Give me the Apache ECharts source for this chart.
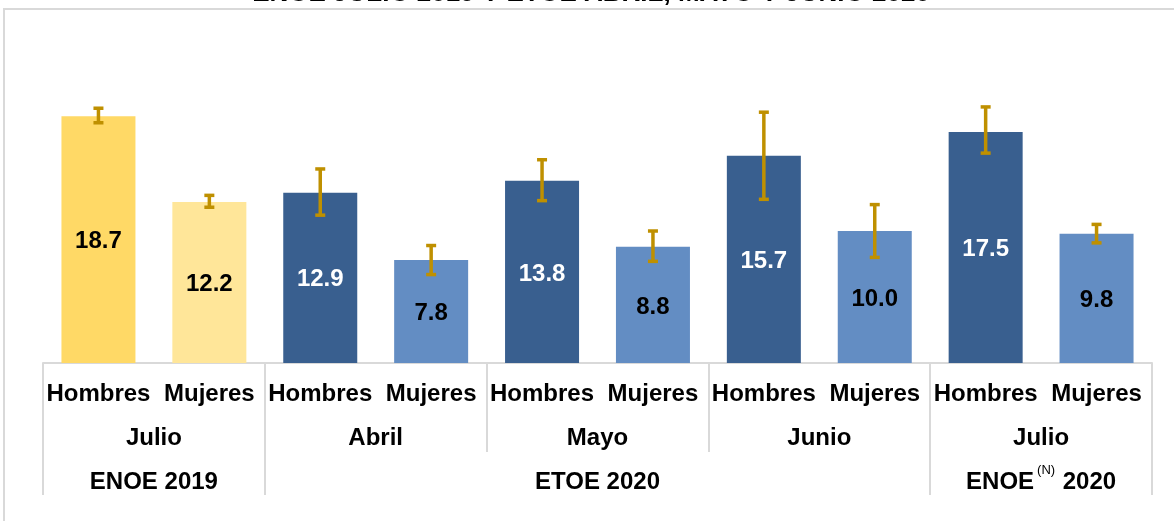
<!DOCTYPE html>
<html>
<head>
<meta charset="utf-8">
<script src="https://cdn.jsdelivr.net/npm/echarts@6/dist/echarts.min.js"></script>
<style>
  html, body { margin: 0; padding: 0; background: #fff; }
  #chart { width: 1174px; height: 521px; }
</style>
</head>
<body>
<div id="chart"></div>
<script>
// data
const categories = ['Hombres', 'Mujeres', 'Hombres', 'Mujeres', 'Hombres', 'Mujeres', 'Hombres', 'Mujeres', 'Hombres', 'Mujeres']
const values = [18.7, 12.2, 12.9, 7.8, 13.8, 8.8, 15.7, 10.0, 17.5, 9.8]
const errLow = [18.2, 11.8, 11.2, 6.7, 12.3, 7.7, 12.4, 8.0, 15.9, 9.1]
const errHigh = [19.3, 12.7, 14.7, 8.9, 15.4, 10.0, 19.0, 12.0, 19.4, 10.5]
const monthLabels = ['Julio', 'Abril', 'Mayo', 'Junio', 'Julio']
const surveyLabels = ['ENOE 2019', 'ETOE 2020', 'ENOE 2020']
const surveyNotes = ['', '', '(N)']
const surveySpans = [2, 6, 2]
const titleText = 'ENOE JULIO 2019 Y ETOE ABRIL, MAYO Y JUNIO 2020'

const FONT = "'Liberation Sans', Arial, sans-serif"
const GRID_LINE = '#d9d9d9'

// bar colours: first survey in gold, the rest in blue
const barColor = (i) => {
  const woman = i % 2 === 1
  if (i < 2) return woman ? '#ffe699' : '#ffd966'
  return woman ? '#638dc3' : '#395f8f'
}
const labelColor = (i) => (i >= 2 && i % 2 === 0 ? '#fff' : '#000')

// group boundaries / centres on the 0..N scale
const monthSpan = categories.length / monthLabels.length
const monthBounds = monthLabels.map((m, i) => i * monthSpan).concat([categories.length])
const monthCenters = monthLabels.map((m, i) => i * monthSpan + monthSpan / 2)

const surveyBounds = [0]
const surveyCenters = []
surveySpans.forEach(s => {
  const start = surveyBounds[surveyBounds.length - 1]
  surveyCenters.push(start + s / 2)
  surveyBounds.push(start + s)
})

const chart = echarts.init(document.getElementById('chart'))

const option = {
  backgroundColor: '#fff',
  animation: false,
  graphic: [
    {
      type: 'rect',
      shape: { x: 4, y: 9, width: 1300, height: 700 },
      style: { fill: 'none', stroke: GRID_LINE, lineWidth: 2 },
      silent: true,
      z: -1
    },
    {
      type: 'text',
      style: {
        text: titleText,
        x: 591,
        y: 7,
        align: 'center',
        verticalAlign: 'bottom',
        font: 'bold 26px ' + FONT,
        fill: '#000'
      },
      silent: true
    }
  ],
  grid: {
    left: 43,
    right: 22,
    top: 99,
    bottom: 158,
    outerBoundsMode: 'none'
  },
  xAxis: [
    {
      type: 'category',
      data: categories,
      position: 'bottom',
      axisLine: { show: true, lineStyle: { color: GRID_LINE, width: 2 } },
      axisTick: { show: false },
      axisLabel: {
        interval: 0,
        margin: 19,
        color: '#000',
        fontFamily: FONT,
        fontWeight: 'bold',
        fontSize: 24
      }
    },
    {
      type: 'value',
      min: 0,
      max: categories.length,
      position: 'bottom',
      axisLine: { show: false },
      splitLine: { show: false },
      axisTick: {
        show: true,
        customValues: monthBounds,
        length: 89,
        lineStyle: { color: GRID_LINE, width: 2 }
      },
      axisLabel: {
        customValues: monthCenters,
        margin: 63,
        color: '#000',
        fontFamily: FONT,
        fontWeight: 'bold',
        fontSize: 24,
        formatter: (v) => monthLabels[monthCenters.indexOf(v)] || ''
      }
    },
    {
      type: 'value',
      min: 0,
      max: categories.length,
      position: 'bottom',
      axisLine: { show: false },
      splitLine: { show: false },
      axisTick: {
        show: true,
        customValues: surveyBounds,
        length: 132,
        lineStyle: { color: GRID_LINE, width: 2 }
      },
      axisLabel: {
        customValues: surveyCenters,
        margin: 101,
        color: '#000',
        formatter: (v) => {
          const i = surveyCenters.indexOf(v)
          if (i < 0) return ''
          const note = surveyNotes[i]
          if (!note) return '{b|' + surveyLabels[i] + '}'
          const parts = surveyLabels[i].split(' ')
          return '{b|' + parts[0] + '}{sup|' + note + '}{b| ' + parts.slice(1).join(' ') + '}'
        },
        rich: {
          b: { fontFamily: FONT, fontWeight: 'bold', fontSize: 24, lineHeight: 36, color: '#000' },
          sup: { fontFamily: FONT, fontSize: 13, color: '#000', padding: [0, 1, 23, 3] }
        }
      }
    }
  ],
  yAxis: {
    type: 'value',
    min: 0,
    max: 20,
    show: false,
    splitLine: { show: false }
  },
  series: [
    {
      type: 'bar',
      barWidth: 74,
      data: values.map((v, i) => ({
        value: v,
        itemStyle: { color: barColor(i) },
        label: { color: labelColor(i) }
      })),
      label: {
        show: true,
        position: 'inside',
        offset: [0, 2],
        fontFamily: FONT,
        fontWeight: 'bold',
        fontSize: 24,
        formatter: (p) => p.value.toFixed(1)
      }
    },
    {
      type: 'custom',
      z: 5,
      data: categories.map((c, i) => [i, errLow[i], errHigh[i]]),
      renderItem: (params, api) => {
        const lo = api.coord([api.value(0), api.value(1)])
        const hi = api.coord([api.value(0), api.value(2)])
        const half = 5
        const style = { stroke: '#bf9000', lineWidth: 3.5 }
        return {
          type: 'group',
          children: [
            { type: 'line', shape: { x1: hi[0], y1: hi[1], x2: lo[0], y2: lo[1] }, style },
            { type: 'line', shape: { x1: hi[0] - half, y1: hi[1], x2: hi[0] + half, y2: hi[1] }, style },
            { type: 'line', shape: { x1: lo[0] - half, y1: lo[1], x2: lo[0] + half, y2: lo[1] }, style }
          ]
        }
      }
    }
  ]
}

chart.setOption(option)
window.addEventListener('resize', () => chart.resize())
</script>
</body>
</html>
